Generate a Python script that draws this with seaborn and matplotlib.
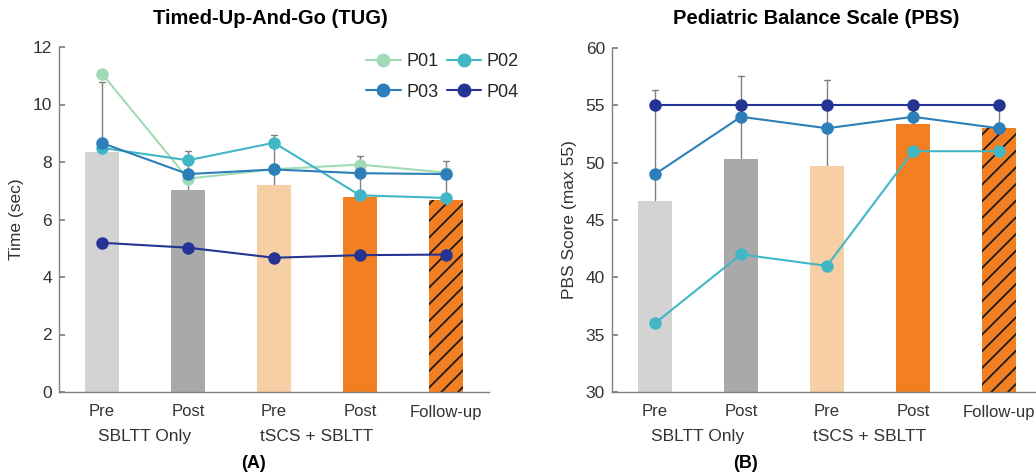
import numpy as np
import pandas as pd
import matplotlib
matplotlib.use("Agg")
import matplotlib.pyplot as plt
import seaborn as sns

# ---------------- data ----------------
phases = ["SBLTT Pre", "SBLTT Post", "tSCS Pre", "tSCS Post", "Follow-up"]
tick_labels = ["Pre", "Post", "Pre", "Post", "Follow-up"]
group_labels = ["SBLTT Only", "tSCS + SBLTT"]
participants = ["P01", "P02", "P03", "P04"]

tug_p01 = [11.07, 7.42, 7.75, 7.91, 7.63]
tug_p02 = [8.49, 8.06, 8.67, 6.84, 6.75]
tug_p03 = [8.66, 7.58, 7.74, 7.61, 7.58]
tug_p04 = [5.19, 5.02, 4.67, 4.76, 4.78]

pbs_p01 = [np.nan, np.nan, np.nan, np.nan, np.nan]
pbs_p02 = [36, 42, 41, 51, 51]
pbs_p03 = [49, 54, 53, 54, 53]
pbs_p04 = [55, 55, 55, 55, 55]

bar_colors = ["#d3d3d3", "#a9a9a9", "#f6cfa4", "#f28023", "#f28023"]
line_colors = ["#a1dab4", "#41b6c4", "#2c7fb8", "#253494"]


def long_df(series):
    rows = []
    for pid, vals in zip(participants, series):
        for ph, v in zip(phases, vals):
            rows.append({"pid": pid, "phase": ph, "value": v})
    return pd.DataFrame(rows).dropna()


tug = long_df([tug_p01, tug_p02, tug_p03, tug_p04])
pbs = long_df([pbs_p01, pbs_p02, pbs_p03, pbs_p04])

# ---------------- style ----------------
sns.set_theme(style="ticks")
plt.rcParams["font.family"] = ["Liberation Sans", "DejaVu Sans"]
plt.rcParams["hatch.linewidth"] = 1.3
plt.rcParams["hatch.color"] = "#1a1a1a"
txt = "#333333"
spine_c = "#808080"

fig = plt.figure(figsize=(10.36, 4.76), dpi=100)
W, H = 1036, 476
ax1 = fig.add_axes([59 / W, 84 / H, 430 / W, 345 / H])
ax2 = fig.add_axes([612 / W, 84 / H, 430 / W, 344 / H])

bar_pal = dict(zip(phases, bar_colors))
line_pal = dict(zip(participants, line_colors))


def draw(ax, df, ylim, yticks, ylabel, legend):
    sns.barplot(data=df, x="phase", y="value", order=phases, hue="phase",
                palette=bar_pal, legend=False, errorbar="sd", capsize=0.08,
                err_kws={"color": spine_c, "linewidth": 1.0, "zorder": 0.5},
                width=0.39, saturation=1, ax=ax)
    for p in ax.patches:
        p.set_edgecolor("none")
    ax.patches[-1].set_hatch("//")
    ax.patches[-1].set_edgecolor("#1a1a1a")
    ax.patches[-1].set_linewidth(0)
    hue_order = [p for p in participants if p in df["pid"].unique()]
    sns.pointplot(data=df, x="phase", y="value", order=phases, hue="pid",
                  hue_order=hue_order, palette=line_pal, markers="o",
                  errorbar=None, markersize=9, linewidth=1.5,
                  markeredgewidth=0, legend=legend, ax=ax)
    ax.set_xlim(-0.5, 4.5)
    ax.set_ylim(*ylim)
    ax.set_yticks(yticks)
    ax.set_xticks(range(len(phases)))
    ax.set_xticklabels(tick_labels)
    ax.set_xlabel("")
    ax.set_ylabel(ylabel, fontsize=12.5, color=txt, labelpad=6)
    ax.tick_params(axis="y", direction="in", length=4, labelsize=12.5,
                   colors=spine_c, labelcolor=txt, pad=5)
    ax.tick_params(axis="x", length=0, labelsize=12, labelcolor=txt, pad=9)
    for s in ["top", "right"]:
        ax.spines[s].set_visible(False)
    for s in ["left", "bottom"]:
        ax.spines[s].set_color(spine_c)
        ax.spines[s].set_linewidth(1.0)
    tr = ax.get_xaxis_transform()
    ax.text(0.5, -0.13, group_labels[0], transform=tr, ha="center",
            va="center", fontsize=12.5, color=txt)
    ax.text(2.5, -0.13, group_labels[1], transform=tr, ha="center",
            va="center", fontsize=12.5, color=txt)


draw(ax1, tug, (0, 12), [0, 2, 4, 6, 8, 10, 12], "Time (sec)", True)
draw(ax2, pbs, (30, 60), [30, 35, 40, 45, 50, 55, 60], "PBS Score (max 55)", False)

# legend: rows P01 P02 / P03 P04
old = ax1.get_legend()
handles = list(old.legend_handles)
labels = [t.get_text() for t in old.get_texts()]
old.remove()
lut = dict(zip(labels, handles))
order = ["P01", "P03", "P02", "P04"]
for h in handles:
    try:
        h.set_markersize(10)
    except Exception:
        pass
ax1.legend([lut[k] for k in order], order, loc="upper right",
           bbox_to_anchor=(519 / W, 1 - 53 / H), bbox_transform=fig.transFigure,
           ncol=2, frameon=False, fontsize=13, handlelength=1.9,
           handletextpad=0.3, columnspacing=0.5, borderpad=0,
           borderaxespad=0, labelspacing=0.75)

fig.text(270 / W, 1 - 18 / H, "Timed-Up-And-Go (TUG)", ha="center",
         va="center", fontsize=14.5, fontweight="bold", color="black")
fig.text(816 / W, 1 - 18 / H, "Pediatric Balance Scale (PBS)", ha="center",
         va="center", fontsize=14.5, fontweight="bold", color="black")
fig.text(253 / W, 1 - 463 / H, "(A)", ha="center", va="center",
         fontsize=13, fontweight="bold", color="black")
fig.text(745 / W, 1 - 463 / H, "(B)", ha="center", va="center",
         fontsize=13, fontweight="bold", color="black")

fig.savefig("out.png", dpi=100)
